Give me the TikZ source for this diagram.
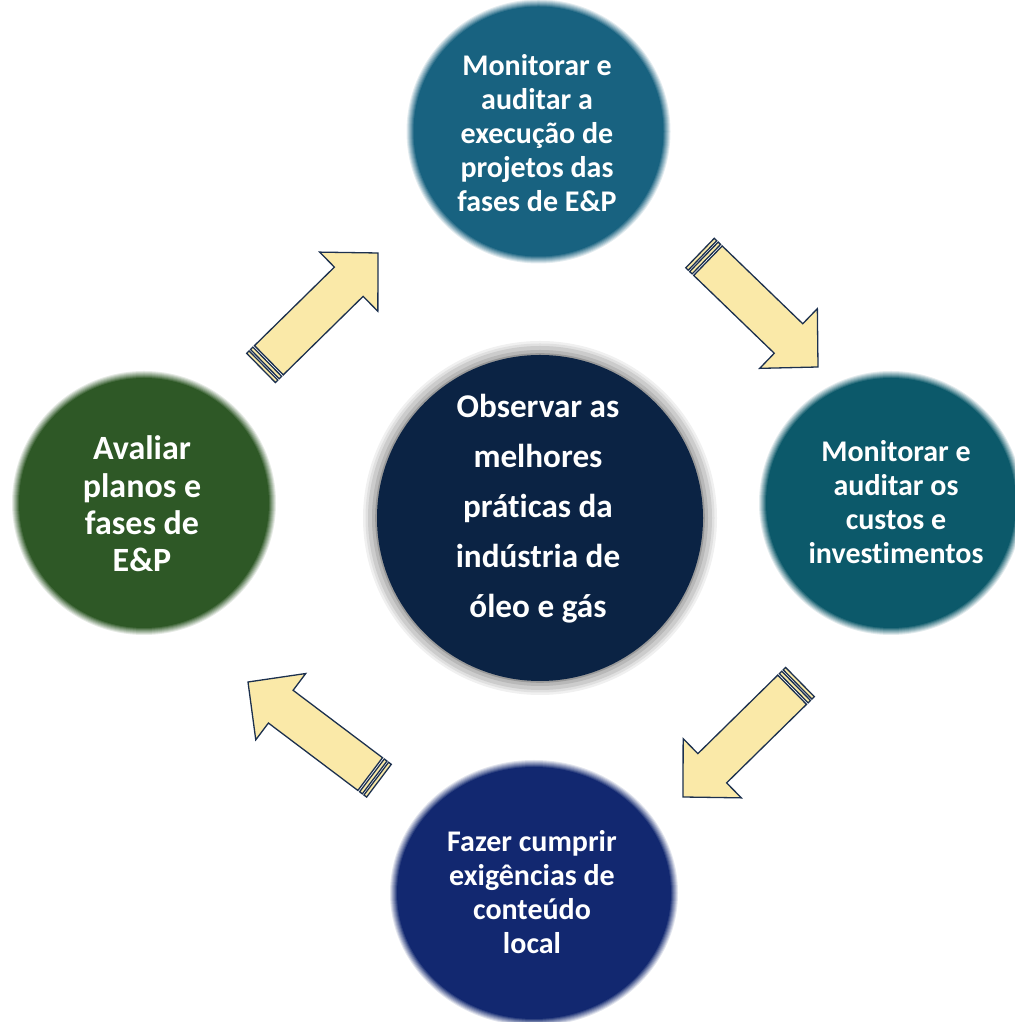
\documentclass[tikz,border=0pt]{standalone}
\usepackage{fontspec}
\setmainfont[Ligatures={NoCommon,NoRequired},Contextuals=NoAlternate]{Carlito}
\definecolor{arrowfill}{RGB}{250,233,168}
\definecolor{arrowline}{RGB}{28,48,78}
\definecolor{topblue}{RGB}{24,98,128}
\definecolor{rightteal}{RGB}{12,89,106}
\definecolor{bottomnavy}{RGB}{18,40,112}
\definecolor{leftgreen}{RGB}{46,88,38}
\definecolor{centernavy}{RGB}{11,35,68}
\begin{document}
\begin{tikzpicture}[x=0.5pt,y=0.5pt,
  arrowbody/.style={fill=arrowfill,draw=arrowline,line width=0.65pt,line join=miter},
  stripedarrow/.pic={
    % head and shaft, tip at the origin, pointing along +x
    \filldraw[arrowbody] (0,0) -- (-41,41.5) -- (-41,20.5) -- (-153,20.5)
      -- (-153,-20.5) -- (-41,-20.5) -- (-41,-41.5) -- cycle;
    % two thin stripes behind the tail
    \filldraw[arrowbody] (-155.2,20.5) rectangle (-158.6,-20.5);
    \filldraw[arrowbody] (-160.6,20.5) rectangle (-164,-20.5);
  },
  label/.style={text=white,align=center,inner sep=0pt},
  smalltext/.style={label,font=\fontsize{15pt}{17pt}\selectfont\bfseries},
  bigtext/.style={label,font=\fontsize{16.6pt}{25pt}\selectfont\bfseries},
  lefttext/.style={label,font=\fontsize{17pt}{18.6pt}\selectfont\bfseries}
]
\useasboundingbox (0,0) rectangle (1014,1022);

% disc with a soft edge: concentric fills blended toward white
\newcommand{\softdisc}[4]{%
  \foreach \k/\p in {0/12,1/25,2/38,3/50,4/62,5/75,6/88,7/100}{%
    \fill[#4!\p!white] (#1,#2) circle ({#3+4-\k});}}
\newcommand{\softoval}[5]{%
  \foreach \k/\p in {0/12,1/25,2/38,3/50,4/62,5/75,6/88,7/100}{%
    \fill[#5!\p!white] (#1,#2) ellipse ({#3+4-\k} and {#4+4-\k});}}

\softdisc{538.5}{890.5}{128}{topblue}
\softdisc{891}{519}{128}{rightteal}
\softoval{534}{129}{140}{129}{bottomnavy}
\softdisc{144}{519}{128}{leftgreen}

% central disc with its silver ring
\fill[black!6] (540,504) circle (177);
\fill[black!12] (540,504) circle (174.5);
\fill[black!20] (540,504) circle (172);
\fill[black!28] (540,504) circle (168);
\fill[black!40] (540,504) circle (164.8);
\fill[centernavy] (540,504) circle (163);

% block arrows running clockwise round the discs
\coordinate (tipA) at (378,769);
\coordinate (tipB) at (818,655);
\coordinate (tipC) at (683,225);
\coordinate (tipD) at (248,340);
\pic[rotate=44.5] at (tipA) {stripedarrow};
\pic[rotate=-44] at (tipB) {stripedarrow};
\pic[rotate=-135.5] at (tipC) {stripedarrow};
\pic[rotate=143] at (tipD) {stripedarrow};

% texts
\node[smalltext] (topText) at (537,888.5) {Monitorar e\\auditar a\\execução de\\projetos das\\fases de E\&P};
\node[smalltext] (rightText) at (896,519.5) {Monitorar e\\auditar os\\custos e\\investimentos};
\node[smalltext] (bottomText) at (532,129.5) {Fazer cumprir\\exigências de\\conteúdo\\local};
\node[lefttext] (leftText) at (142,518) {Avaliar\\planos e\\fases de\\E\&P};
\node[bigtext] (centerText) at (538,513) {Observar as\\melhores\\práticas da\\indústria de\\óleo e gás};
\end{tikzpicture}
\end{document}
